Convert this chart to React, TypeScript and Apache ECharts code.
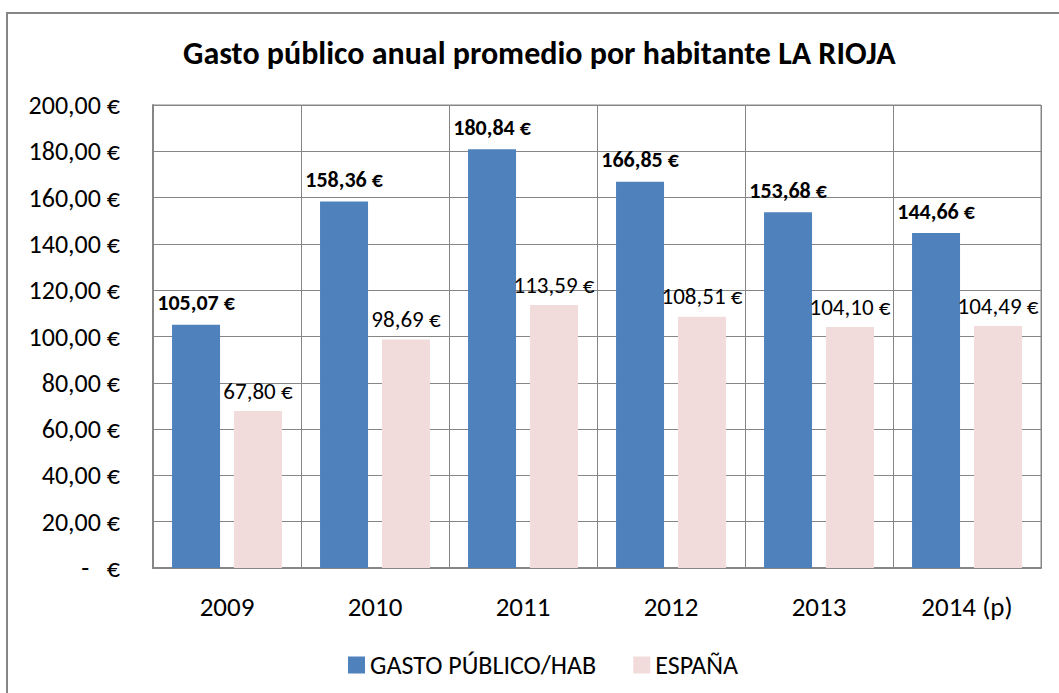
import React, { useEffect, useRef } from "react";
import * as echarts from "echarts";

const categories = ["2009", "2010", "2011", "2012", "2013", "2014 (p)"];
const gastoPublico = [105.07, 158.36, 180.84, 166.85, 153.68, 144.66];
const espana = [67.8, 98.69, 113.59, 108.51, 104.1, 104.49];
const seriesNames = ["GASTO PÚBLICO/HAB", "ESPAÑA"];
const titleText = "Gasto público anual promedio por habitante LA RIOJA";

const FONT = "Carlito, Lato, sans-serif";

const fmt = (v: number) => v.toFixed(2).replace(".", ",") + " €";

export default function App() {
  const ref = useRef<HTMLDivElement>(null);
  useEffect(() => {
    if (!ref.current) return;
    const chart = echarts.init(ref.current, undefined, { renderer: "svg" });
    chart.setOption({
      animation: false,
      backgroundColor: "#ffffff",
      textStyle: { fontFamily: FONT },
      title: {
        text: titleText,
        left: 178,
        top: 32,
        textStyle: { fontFamily: FONT, fontSize: 32, fontWeight: "bold", color: "#000" },
      },
      graphic: [
        {
          type: "rect",
          shape: { x: 7, y: 13, width: 1100, height: 1000 },
          style: { fill: "none", stroke: "#868686", lineWidth: 2 },
          silent: true,
        },
      ],
      legend: {
        left: 343,
        top: 647,
        itemWidth: 17,
        itemHeight: 17,
        itemGap: 37,
        icon: "rect",
        textStyle: { fontFamily: FONT, fontSize: 26, color: "#000" },
        data: seriesNames,
      },
      grid: {
        left: 153,
        top: 105,
        width: 888,
        height: 463,
        show: true,
        borderColor: "#868686",
        borderWidth: 1,
      },
      xAxis: {
        type: "category",
        data: categories,
        axisLine: { show: true, lineStyle: { color: "#868686", width: 2 } },
        axisTick: { show: false },
        splitLine: { show: true, lineStyle: { color: "#868686", width: 1 } },
        axisLabel: { margin: 25, fontFamily: FONT, fontSize: 27, color: "#000" },
      },
      yAxis: {
        type: "value",
        min: 0,
        max: 200,
        interval: 20,
        axisLine: { show: true, lineStyle: { color: "#868686", width: 2 } },
        axisTick: { show: false },
        splitLine: { show: true, lineStyle: { color: "#868686", width: 1 } },
        axisLabel: {
          margin: 33,
          fontFamily: FONT,
          fontSize: 26,
          color: "#000",
          formatter: (v: number) => (v === 0 ? "-\u00a0\u00a0\u00a0€" : fmt(v)),
        },
      },
      series: [
        {
          name: seriesNames[0],
          type: "bar",
          data: gastoPublico,
          barWidth: 48,
          barGap: "29%",
          itemStyle: { color: "#4F81BD" },
          label: {
            show: true,
            position: "top",
            distance: 11,
            formatter: (p: any) => fmt(p.value),
            fontFamily: FONT,
            fontSize: 22,
            fontWeight: "bold",
            color: "#000",
          },
        },
        {
          name: seriesNames[1],
          type: "bar",
          data: espana,
          barWidth: 48,
          itemStyle: { color: "#F2DCDB" },
          label: {
            show: true,
            position: "top",
            distance: 9,
            formatter: (p: any) => fmt(p.value),
            fontFamily: FONT,
            fontSize: 23,
            color: "#000",
          },
        },
      ],
    });
    return () => chart.dispose();
  }, []);
  return (
    <div
      ref={ref}
      style={{ position: "fixed", left: 0, top: 0, width: 1059, height: 693 }}
    />
  );
}
